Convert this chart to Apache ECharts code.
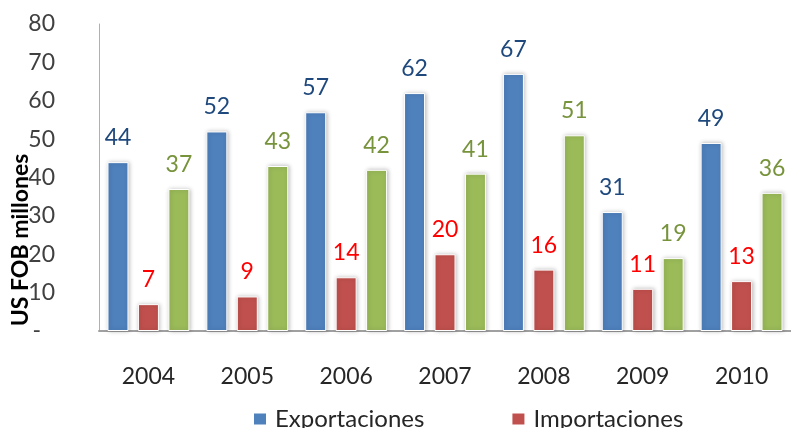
<!DOCTYPE html>
<html>
<head>
<meta charset="utf-8">
<script src="https://cdn.jsdelivr.net/npm/echarts@6/dist/echarts.min.js"></script>
<style>html,body{margin:0;padding:0;background:#fff}#c{width:791px;height:428px}</style>
</head>
<body>
<div id="c"></div>
<script>
const years = ['2004','2005','2006','2007','2008','2009','2010'];
const exportaciones = [44, 52, 57, 62, 67, 31, 49];
const importaciones = [7, 9, 14, 20, 16, 11, 13];
const balanza = [37, 43, 42, 41, 51, 19, 36];
const seriesNames = ['Exportaciones', 'Importaciones', 'Balanza comercial'];
const yTicks = [0, 10, 20, 30, 40, 50, 60, 70, 80];

const FONT = 'Lato, "Liberation Sans", Arial, sans-serif';
const chart = echarts.init(document.getElementById('c'), null, {renderer: 'canvas'});

function barSeries(name, data, color, labelColor) {
  return {
    name: name, type: 'bar', data: data,
    barWidth: 21, barGap: '45%',
    itemStyle: {color: color, borderColor: '#ffffff', borderWidth: 1,
      shadowColor: 'rgba(0,0,0,0.25)', shadowBlur: 4, shadowOffsetX: 1, shadowOffsetY: 0},
    label: {show: true, position: 'top', distance: 13, color: labelColor,
      fontFamily: FONT, fontSize: 23},
    emphasis: {disabled: true}
  };
}

chart.setOption({
  animation: false,
  backgroundColor: '#ffffff',
  grid: {left: 99, top: 24, width: 698, height: 307, containLabel: false},
  xAxis: {
    type: 'category', data: years,
    axisLine: {lineStyle: {color: '#A0A0A0', width: 2}},
    axisTick: {show: false},
    axisLabel: {color: '#262626', fontFamily: FONT, fontSize: 23, margin: 34}
  },
  yAxis: {
    type: 'value', min: yTicks[0], max: yTicks[yTicks.length - 1], interval: 10,
    axisLine: {show: true, lineStyle: {color: '#B0B0B0', width: 1}},
    axisTick: {show: false},
    splitLine: {show: false},
    axisLabel: {color: '#404040', fontFamily: FONT, fontSize: 23, margin: 44,
      formatter: function (v) { return v === 0 ? '{d|-}' : String(v); },
      rich: {d: {color: '#404040', fontFamily: FONT, fontSize: 23, padding: [0, 14, 0, 0]}}}
  },
  legend: [{
    data: [seriesNames[0], seriesNames[1]],
    left: 247, top: 402, orient: 'horizontal',
    itemWidth: 14, itemHeight: 13, itemGap: 86, icon: 'rect',
    textStyle: {color: '#262626', fontFamily: FONT, fontSize: 24, padding: [0, 0, 0, 3]}
  }, {
    data: [seriesNames[2]],
    left: 247, top: 440,
    itemWidth: 14, itemHeight: 13, icon: 'rect',
    textStyle: {color: '#262626', fontFamily: FONT, fontSize: 24}
  }],
  graphic: [{
    type: 'text', x: 21, y: 240, rotation: Math.PI / 2,
    style: {text: 'US FOB millones', fill: '#000', font: 'bold 23px Lato, "Liberation Sans", Arial, sans-serif',
      textAlign: 'center', textVerticalAlign: 'middle'}
  }],
  series: [
    barSeries(seriesNames[0], exportaciones, '#4F81BD', '#1F497D'),
    barSeries(seriesNames[1], importaciones, '#C0504D', '#FF0000'),
    barSeries(seriesNames[2], balanza, '#9BBB59', '#77933C')
  ]
});
</script>
</body>
</html>
